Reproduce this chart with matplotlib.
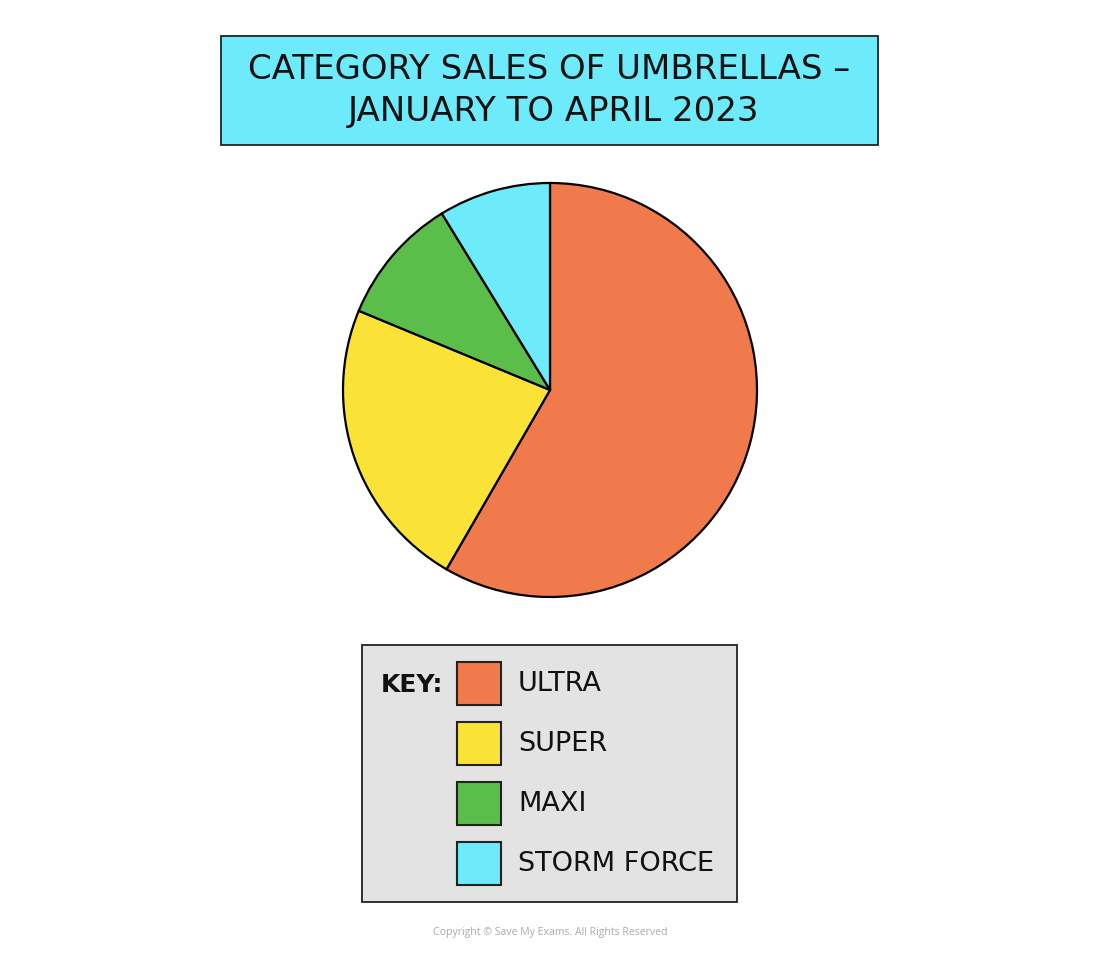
import matplotlib
matplotlib.use("Agg")
import matplotlib.pyplot as plt
from matplotlib.patches import Rectangle

categories = ["ULTRA", "SUPER", "MAXI", "STORM FORCE"]
sales = [700, 275, 120, 105]
colors = ["#f07a4c", "#fae336", "#5bbe4a", "#6debfb"]
title_lines = ["CATEGORY SALES OF UMBRELLAS \u2013", "JANUARY TO APRIL 2023"]
key_label = "KEY:"
copyright_text = "Copyright \u00a9 Save My Exams. All Rights Reserved"

W, H = 1100, 955
fig = plt.figure(figsize=(W / 100, H / 100), dpi=100)
ax = fig.add_axes([0, 0, 1, 1])
ax.set_xlim(0, W)
ax.set_ylim(0, H)
ax.set_aspect("equal")
ax.axis("off")

def Y(y_img):
    return H - y_img

font = "DejaVu Sans"

# Title box
ax.add_patch(Rectangle((221, Y(145)), 657, 109, facecolor="#6debfb",
                       edgecolor="#222222", linewidth=1.3, zorder=1))
ax.text(549, Y(70), title_lines[0], ha="center", va="center",
        fontsize=24.5, family=font, color="#111111", zorder=2)
ax.text(554, Y(112), title_lines[1], ha="center", va="center",
        fontsize=24.5, family=font, color="#111111", zorder=2)

# Pie
ax.pie(sales, colors=colors, center=(550, Y(390)), radius=207,
       startangle=90, counterclock=False,
       wedgeprops=dict(edgecolor="black", linewidth=1.6), frame=True)
ax.set_xlim(0, W)
ax.set_ylim(0, H)
ax.axis("off")

# Legend box
ax.add_patch(Rectangle((362, Y(902)), 375, 257, facecolor="#e3e3e3",
                       edgecolor="#222222", linewidth=1.3, zorder=1))
ax.text(381, Y(685), key_label, ha="left", va="center", fontsize=18,
        fontweight="bold", family=font, color="#111111", zorder=2)
tops = [662, 722, 782, 842]
for cat, col, top in zip(categories, colors, tops):
    ax.add_patch(Rectangle((457, Y(top + 43)), 44, 43, facecolor=col,
                           edgecolor="#222222", linewidth=1.5, zorder=2))
    ax.text(518, Y(top + 22), cat, ha="left", va="center", fontsize=19.5,
            family=font, color="#111111", zorder=2)

ax.text(550, Y(933), copyright_text, ha="center", va="center", fontsize=7.6,
        family="Open Sans", color="#aaaaaa")

fig.savefig("out.png", dpi=100, facecolor="white")
